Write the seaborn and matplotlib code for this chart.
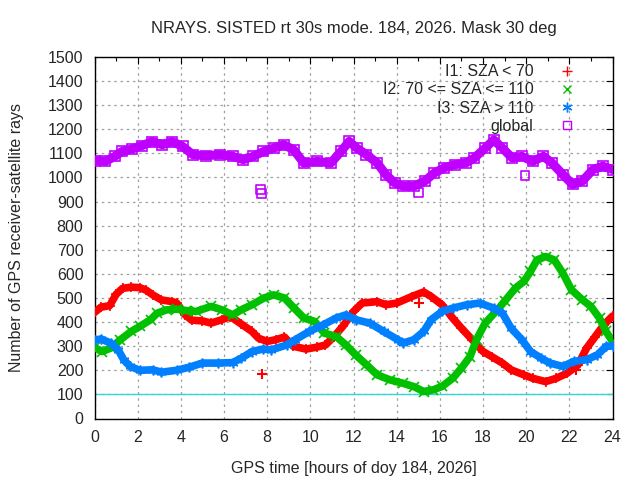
import numpy as np
import pandas as pd
import matplotlib
matplotlib.use("Agg")
import matplotlib.pyplot as plt
from matplotlib.lines import Line2D
from matplotlib.ticker import MultipleLocator
import seaborn as sns

# ---------------- data ----------------
i1_h = [0, 0.3, 0.7, 1.0, 1.3, 1.7, 2.1, 2.4, 2.7, 3.1, 3.6, 3.8, 4.2, 4.5, 5.0, 5.4, 5.9, 6.3,
        6.8, 7.3, 7.6, 8.0, 8.4, 8.8, 9.2, 9.8, 10.3, 10.7, 11.1, 11.5, 12.0, 12.4, 13.1, 13.5,
        14.0, 14.7, 15.25, 15.6, 16.1, 16.6, 17.0, 17.5, 18.0, 18.4, 18.9, 19.3, 19.9, 20.3,
        20.9, 21.4, 21.9, 22.4, 22.8, 23.2, 23.6, 24.0]
i1_v = [440, 462, 468, 515, 540, 545, 543, 532, 513, 492, 485, 480, 430, 408, 405, 396, 410, 423,
        392, 361, 333, 320, 327, 338, 300, 288, 296, 305, 340, 382, 444, 479, 485, 472,
        479, 506, 525, 506, 472, 416, 375, 327, 278, 257, 230, 202, 181, 167,
        153, 167, 188, 222, 292, 340, 389, 425]

i2_h = [0, 0.35, 0.75, 1.2, 1.7, 2.1, 2.6, 2.9, 3.35, 3.8, 4.25, 4.7, 5.4, 5.9, 6.4, 6.8, 7.3,
        7.85, 8.3, 8.8, 9.25, 9.7, 10.2, 10.65, 11.2, 11.65, 12.1, 12.6, 13.1, 13.7, 14.3, 14.8,
        15.25, 15.7, 16.1, 16.6, 17.0, 17.4, 17.7, 18.1, 18.6, 19.0, 19.5, 19.9, 20.2, 20.5,
        20.9, 21.3, 21.7, 22.1, 22.6, 23.0, 23.4, 23.7, 24.0]
i2_v = [295, 278, 292, 327, 361, 382, 410, 437, 451, 454, 448, 444, 465, 451, 430, 451, 472,
        500, 513, 500, 458, 417, 403, 354, 340, 305, 264, 223, 181, 160, 146, 132,
        112, 119, 133, 167, 209, 257, 327, 396, 444, 486, 541, 569, 610, 658,
        672, 658, 603, 534, 493, 465, 416, 361, 320]

i3_h = [0, 0.3, 0.75, 1.1, 1.35, 1.65, 2.1, 2.7, 3.1, 3.8, 4.4, 5.0, 5.7, 6.4, 6.8, 7.3, 7.8,
        8.2, 8.9, 9.3, 9.95, 10.6, 11.2, 11.65, 12.1, 12.75, 13.4, 14.05, 14.3, 14.8, 15.25,
        15.6, 16.1, 16.6, 17.25, 17.85, 18.5, 18.9, 19.3, 19.8, 20.2, 20.7, 21.1, 21.7, 22.2,
        22.8, 23.3, 23.7, 24.0]
i3_v = [325, 330, 313, 285, 244, 216, 200, 202, 192, 200, 213, 230, 230, 232, 250, 278, 288,
        285, 305, 327, 361, 389, 417, 430, 410, 396, 361, 327, 313, 327, 361,
        410, 444, 458, 472, 479, 458, 437, 375, 327, 278, 250, 230, 216, 237,
        244, 264, 299, 301]

gl_h = [0, 0.5, 0.95, 1.27, 1.73, 2.2, 2.67, 3.14, 3.6, 4.08, 4.55, 5.17, 5.8, 6.4, 6.9, 7.36,
        7.83, 8.3, 8.77, 9.23, 9.7, 10.33, 10.95, 11.42, 11.8, 12.15, 12.6, 13.1, 13.5, 13.9,
        14.3, 14.8, 15.3, 15.75, 16.2, 16.7, 17.2, 17.6, 18.1, 18.5, 18.9, 19.35, 19.8, 20.3,
        20.8, 21.2, 21.7, 22.15, 22.6, 23.1, 23.55, 24.0]
gl_v = [1070, 1067, 1088, 1108, 1118, 1132, 1149, 1136, 1149, 1129, 1095, 1090, 1095, 1088, 1074,
        1088, 1108, 1122, 1136, 1115, 1060, 1067, 1060, 1108, 1150, 1122, 1095, 1060, 1012, 978,
        964, 964, 985, 1019, 1040, 1053, 1060, 1081, 1122, 1156, 1122, 1081, 1088, 1067,
        1088, 1060, 1012, 971, 985, 1033, 1047, 1033]

# isolated samples away from the bands
i1_out_h = [7.75, 15.05, 22.3]
i1_out_v = [185, 478, 200]
gl_out_h = [7.7, 7.75, 15.0, 19.95]
gl_out_v = [950, 935, 938, 1008]

ref_level = 100

labels = ["I1: SZA < 70", "I2: 70 <= SZA <= 110", "I3: SZA > 110", "global"]
colors = ["#ff0000", "#00c000", "#0080ff", "#c000ff"]
title = "NRAYS. SISTED rt 30s mode. 184, 2026. Mask 30 deg"
xlabel = "GPS time [hours of doy 184, 2026]"
ylabel = "Number of GPS receiver-satellite rays"

# ---------------- plotting ----------------
sns.set_style("white")
plt.rcParams["font.family"] = ["Liberation Sans", "DejaVu Sans"]
FS = 11.5

fig = plt.figure(figsize=(6.4, 4.8), dpi=100)
ax = fig.add_axes([94.5 / 640, 1 - 418.5 / 480, 518 / 640, 361.5 / 480])

ax.set_xlim(0, 24)
ax.set_ylim(0, 1500)

# grid
ax.xaxis.set_major_locator(MultipleLocator(2))
ax.xaxis.set_minor_locator(MultipleLocator(1))
ax.yaxis.set_major_locator(MultipleLocator(100))
ax.grid(True, which="major", color="#a0a0a0", linestyle=(0, (2, 3)), linewidth=0.9)
ax.set_axisbelow(True)

ax.axhline(ref_level, color="#30d8d8", linewidth=1.0, zorder=1.5)

asterisk = (6, 2, 0)
markers = ["+", "x", asterisk, "s"]
series = [(i1_h, i1_v), (i2_h, i2_v), (i3_h, i3_v), (gl_h, gl_v)]
widths = [5.5, 5.5, 5.5, 6.5]
for (h, v), c, m, lw, lab in zip(series, colors, markers, widths, labels):
    df = pd.DataFrame({"h": h, "v": v})
    sns.lineplot(data=df, x="h", y="v", ax=ax, color=c, linewidth=lw,
                 marker=m, markersize=7, markeredgecolor=c,
                 markerfacecolor=("none" if m == "s" else c),
                 markeredgewidth=1.2, legend=False, zorder=3, sort=False)

sns.scatterplot(x=i1_out_h, y=i1_out_v, ax=ax, marker="+", color=colors[0], s=60,
                linewidth=1.5, zorder=3, legend=False)
sns.scatterplot(x=gl_out_h, y=gl_out_v, ax=ax, marker="s", s=40, facecolors="none",
                edgecolor=colors[3], linewidth=1.2, zorder=3, legend=False)

ax.set_xlabel(xlabel, fontsize=FS, labelpad=12)
ax.set_ylabel(ylabel, fontsize=FS, labelpad=17)
ax.set_title(title, fontsize=FS + 0.5, pad=17)

ax.tick_params(axis="both", which="both", direction="in", top=True, right=True,
               labelsize=FS, color="black")
ax.tick_params(axis="both", which="major", length=5, width=0.8)
ax.tick_params(axis="x", which="major", pad=8)
ax.tick_params(axis="y", which="major", pad=8)
ax.tick_params(axis="x", which="minor", length=3, width=0.8)
for s in ax.spines.values():
    s.set_color("black")
    s.set_linewidth(1.0)

handles = [
    Line2D([], [], linestyle="none", marker="+", color=colors[0], markersize=7, markeredgewidth=1.0),
    Line2D([], [], linestyle="none", marker="x", color=colors[1], markersize=6, markeredgewidth=1.0),
    Line2D([], [], linestyle="none", marker=asterisk, color=colors[2], markersize=7, markeredgewidth=1.0),
    Line2D([], [], linestyle="none", marker="s", markerfacecolor="none", markeredgecolor=colors[3],
           markersize=6, markeredgewidth=1.0),
]
leg = ax.legend(handles, labels, loc="upper right", bbox_to_anchor=(0.955, 1.02),
                frameon=False, markerfirst=False, fontsize=FS, handlelength=1.0,
                handletextpad=1.6, labelspacing=0.2)
for t in leg.get_texts():
    t.set_ha("right")
leg._legend_box.align = "right"

fig.savefig("out.png", dpi=100)
